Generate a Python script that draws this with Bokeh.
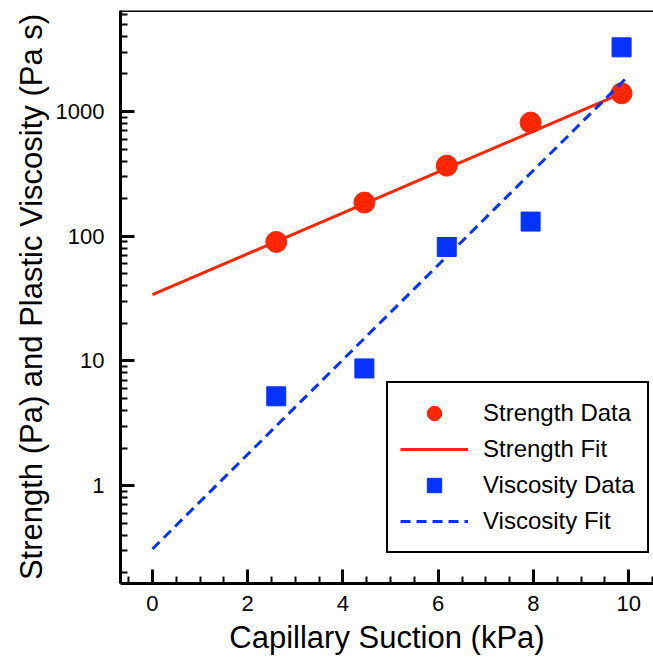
from bokeh.plotting import figure
from bokeh.models import (Range1d, FixedTicker, Legend, LegendItem, Span)
from bokeh.embed import file_html
from bokeh.resources import INLINE

# ---- data ----
suction = [2.6, 4.45, 6.18, 7.94, 9.85]
strength = [90, 186, 368, 815, 1400]
viscosity = [5.2, 8.7, 82, 131, 3270]

strength_fit_x = [0, 9.85]
strength_fit_y = [34, 1400]
viscosity_fit_x = [0, 10.0]
viscosity_fit_y = [0.31, 1940]

x_ticks = [0, 2, 4, 6, 8, 10]
x_tick_labels = ["0", "2", "4", "6", "8", "10"]
y_ticks = [1, 10, 100, 1000]
y_tick_labels = ["1", "10", "100", "1000"]

RED = "#FF2600"
BLUE = "#0433FF"
FONT = "Liberation Sans"

y_lo, y_hi = 0.164, 6460

p = figure(width=653, height=666, output_backend="svg", toolbar_location=None,
           y_axis_type="log",
           x_range=Range1d(-0.67, 10.52), y_range=Range1d(y_lo, y_hi),
           min_border_left=120, min_border_right=0, min_border_top=10,
           min_border_bottom=83)
p.outline_line_color = None
p.xgrid.visible = False
p.ygrid.visible = False
p.background_fill_color = "white"
p.border_fill_color = "white"

# top border
p.add_layout(Span(location=y_hi, dimension="width", line_color="black", line_width=3))

r_sfit = p.line(strength_fit_x, strength_fit_y, line_color=RED, line_width=3)
r_sdat = p.scatter(suction, strength, marker="circle", size=21,
                   fill_color=RED, line_color=RED)
r_vdat = p.scatter(suction, viscosity, marker="square", size=19,
                   fill_color=BLUE, line_color=BLUE)
r_vfit = p.line(viscosity_fit_x, viscosity_fit_y, line_color=BLUE, line_width=3,
                line_dash="10 6")

# x axis
xa = p.xaxis[0]
minor_x = [v / 2 for v in range(-1, 22) if v % 4 != 0]
xa.ticker = FixedTicker(ticks=x_ticks, minor_ticks=minor_x)
xa.major_label_overrides = {t: l for t, l in zip(x_ticks, x_tick_labels)}
xa.axis_label = "Capillary Suction (kPa)"

# y axis
ya = p.yaxis[0]
minor_y = [k * 10.0 ** d for d in range(-1, 4) for k in range(2, 10)]
ya.ticker = FixedTicker(ticks=y_ticks, minor_ticks=minor_y)
ya.major_label_overrides = {t: l for t, l in zip(y_ticks, y_tick_labels)}
ya.axis_label = "Strength (Pa) and Plastic Viscosity (Pa s)"

for ax in (xa, ya):
    ax.axis_line_width = 3
    ax.axis_line_color = "black"
    ax.major_tick_in = 14
    ax.major_tick_out = 0
    ax.minor_tick_in = 7
    ax.minor_tick_out = 0
    ax.major_tick_line_width = 3
    ax.minor_tick_line_width = 2
    ax.major_tick_line_color = "black"
    ax.minor_tick_line_color = "black"
    ax.major_label_text_font = FONT
    ax.major_label_text_font_size = "22px"
    ax.major_label_text_color = "black"
    ax.axis_label_text_font = FONT
    ax.axis_label_text_font_size = "31px"
    ax.axis_label_text_font_style = "normal"
    ax.axis_label_text_color = "black"

xa.major_label_standoff = 12
xa.axis_label_standoff = 6
ya.major_label_standoff = 16
ya.axis_label_standoff = 4

legend = Legend(items=[
    LegendItem(label="Strength Data", renderers=[r_sdat]),
    LegendItem(label="Strength Fit", renderers=[r_sfit]),
    LegendItem(label="Viscosity Data", renderers=[r_vdat]),
    LegendItem(label="Viscosity Fit", renderers=[r_vfit]),
], location=(266, 30))
legend.glyph_width = 68
legend.glyph_height = 36
legend.label_height = 36
legend.spacing = 0
legend.padding = 12
legend.margin = 0
legend.label_standoff = 15
legend.label_text_font = FONT
legend.label_text_font_size = "24px"
legend.label_text_color = "black"
legend.border_line_color = "black"
legend.border_line_alpha = 1.0
legend.border_line_width = 2
legend.background_fill_color = "white"
legend.background_fill_alpha = 1.0
p.add_layout(legend)

open("out.html", "w").write(file_html(p, INLINE))
